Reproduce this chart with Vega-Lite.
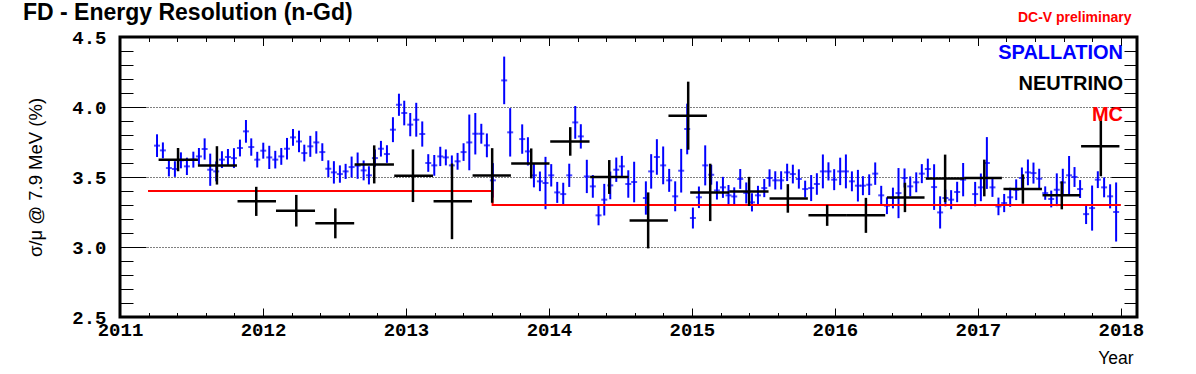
{
 "$schema": "https://vega.github.io/schema/vega-lite/v6.json",
 "width": 1017, "height": 280,
 "autosize": {"type": "none"},
 "padding": {"left": 120, "top": 37, "right": 59, "bottom": 57},
 "background": "white",
 "title": {"text": "FD - Energy Resolution (n-Gd)", "anchor": "start", "frame": "group", "dx": -97, "dy": 33, "font": "Liberation Sans", "fontSize": 23, "fontWeight": "bold", "color": "black", "offset": 0, "baseline": "alphabetic"},
 "config": {
  "view": {"stroke": "black", "strokeWidth": 3},
  "axis": {"domain": false, "labelFont": "Liberation Mono", "labelFontWeight": "bold", "labelFontSize": 19, "labelColor": "black", "tickColor": "black", "tickWidth": 1, "titleColor": "black"}
 },
 "datasets": {
  "spall": [
   {"t":2011.259,"v":3.724,"e":0.081},{"t":2011.300,"v":3.690,"e":0.057},{"t":2011.342,"v":3.564,"e":0.060},{"t":2011.384,"v":3.557,"e":0.056},
   {"t":2011.426,"v":3.619,"e":0.057},{"t":2011.468,"v":3.576,"e":0.062},{"t":2011.513,"v":3.624,"e":0.057},{"t":2011.552,"v":3.647,"e":0.060},
   {"t":2011.592,"v":3.700,"e":0.076},{"t":2011.631,"v":3.552,"e":0.115},{"t":2011.673,"v":3.540,"e":0.071},{"t":2011.713,"v":3.624,"e":0.060},
   {"t":2011.755,"v":3.643,"e":0.057},{"t":2011.797,"v":3.635,"e":0.071},{"t":2011.839,"v":3.707,"e":0.060},{"t":2011.881,"v":3.826,"e":0.081},
   {"t":2011.918,"v":3.714,"e":0.062},{"t":2011.960,"v":3.624,"e":0.056},{"t":2012.002,"v":3.688,"e":0.057},{"t":2012.044,"v":3.640,"e":0.083},
   {"t":2012.086,"v":3.624,"e":0.063},{"t":2012.128,"v":3.647,"e":0.060},{"t":2012.168,"v":3.702,"e":0.077},{"t":2012.210,"v":3.783,"e":0.060},
   {"t":2012.252,"v":3.754,"e":0.077},{"t":2012.289,"v":3.671,"e":0.060},{"t":2012.331,"v":3.719,"e":0.075},{"t":2012.373,"v":3.747,"e":0.080},
   {"t":2012.415,"v":3.678,"e":0.063},{"t":2012.457,"v":3.559,"e":0.060},{"t":2012.496,"v":3.533,"e":0.080},{"t":2012.538,"v":3.521,"e":0.062},
   {"t":2012.578,"v":3.540,"e":0.054},{"t":2012.620,"v":3.571,"e":0.075},{"t":2012.662,"v":3.581,"e":0.094},{"t":2012.704,"v":3.547,"e":0.071},
   {"t":2012.741,"v":3.512,"e":0.065},{"t":2012.783,"v":3.635,"e":0.062},{"t":2012.825,"v":3.702,"e":0.056},{"t":2012.867,"v":3.664,"e":0.063},
   {"t":2012.909,"v":3.838,"e":0.089},{"t":2012.951,"v":4.016,"e":0.079},{"t":2012.988,"v":3.957,"e":0.088},{"t":2013.030,"v":3.874,"e":0.083},
   {"t":2013.072,"v":3.909,"e":0.121},{"t":2013.114,"v":3.807,"e":0.090},{"t":2013.156,"v":3.600,"e":0.063},{"t":2013.198,"v":3.583,"e":0.074},
   {"t":2013.240,"v":3.647,"e":0.069},{"t":2013.279,"v":3.640,"e":0.057},{"t":2013.321,"v":3.583,"e":0.071},{"t":2013.361,"v":3.612,"e":0.060},
   {"t":2013.403,"v":3.678,"e":0.063},{"t":2013.443,"v":3.747,"e":0.199},{"t":2013.485,"v":3.809,"e":0.148},{"t":2013.527,"v":3.809,"e":0.071},
   {"t":2013.566,"v":3.726,"e":0.085},{"t":2013.608,"v":3.476,"e":0.123},{"t":2013.687,"v":4.190,"e":0.170},{"t":2013.729,"v":3.819,"e":0.173},
   {"t":2013.813,"v":3.771,"e":0.105},{"t":2013.853,"v":3.683,"e":0.101},{"t":2013.895,"v":3.512,"e":0.086},{"t":2013.937,"v":3.469,"e":0.070},
   {"t":2013.976,"v":3.457,"e":0.187},{"t":2014.016,"v":3.512,"e":0.080},{"t":2014.058,"v":3.390,"e":0.075},{"t":2014.100,"v":3.378,"e":0.081},
   {"t":2014.142,"v":3.512,"e":0.083},{"t":2014.184,"v":3.890,"e":0.117},{"t":2014.223,"v":3.790,"e":0.087},{"t":2014.265,"v":3.504,"e":0.119},
   {"t":2014.307,"v":3.433,"e":0.081},{"t":2014.347,"v":3.226,"e":0.071},{"t":2014.387,"v":3.338,"e":0.113},{"t":2014.429,"v":3.440,"e":0.099},
   {"t":2014.471,"v":3.552,"e":0.087},{"t":2014.510,"v":3.576,"e":0.075},{"t":2014.555,"v":3.450,"e":0.098},{"t":2014.596,"v":3.464,"e":0.145},
   {"t":2014.678,"v":3.350,"e":0.119},{"t":2014.715,"v":3.540,"e":0.123},{"t":2014.755,"v":3.643,"e":0.127},{"t":2014.799,"v":3.583,"e":0.135},
   {"t":2014.841,"v":3.476,"e":0.082},{"t":2014.883,"v":3.362,"e":0.107},{"t":2014.925,"v":3.545,"e":0.156},{"t":2014.967,"v":3.843,"e":0.181},
   {"t":2015.007,"v":3.207,"e":0.075},{"t":2015.049,"v":3.355,"e":0.077},{"t":2015.093,"v":3.583,"e":0.143},{"t":2015.135,"v":3.516,"e":0.071},
   {"t":2015.175,"v":3.404,"e":0.065},{"t":2015.217,"v":3.426,"e":0.075},{"t":2015.256,"v":3.369,"e":0.074},{"t":2015.296,"v":3.361,"e":0.065},
   {"t":2015.338,"v":3.486,"e":0.071},{"t":2015.380,"v":3.386,"e":0.075},{"t":2015.420,"v":3.319,"e":0.065},{"t":2015.462,"v":3.369,"e":0.068},
   {"t":2015.506,"v":3.421,"e":0.065},{"t":2015.543,"v":3.493,"e":0.062},{"t":2015.583,"v":3.476,"e":0.065},{"t":2015.624,"v":3.476,"e":0.065},
   {"t":2015.666,"v":3.533,"e":0.062},{"t":2015.706,"v":3.521,"e":0.067},{"t":2015.748,"v":3.486,"e":0.069},{"t":2015.792,"v":3.414,"e":0.060},
   {"t":2015.834,"v":3.421,"e":0.093},{"t":2015.874,"v":3.450,"e":0.077},{"t":2015.916,"v":3.540,"e":0.121},{"t":2015.955,"v":3.540,"e":0.065},
   {"t":2015.995,"v":3.481,"e":0.075},{"t":2016.037,"v":3.540,"e":0.098},{"t":2016.077,"v":3.540,"e":0.121},{"t":2016.119,"v":3.469,"e":0.071},
   {"t":2016.161,"v":3.438,"e":0.113},{"t":2016.196,"v":3.438,"e":0.068},{"t":2016.240,"v":3.445,"e":0.074},{"t":2016.282,"v":3.524,"e":0.080},
   {"t":2016.324,"v":3.369,"e":0.068},{"t":2016.364,"v":3.295,"e":0.060},{"t":2016.406,"v":3.350,"e":0.074},{"t":2016.445,"v":3.385,"e":0.179},
   {"t":2016.487,"v":3.493,"e":0.068},{"t":2016.527,"v":3.433,"e":0.071},{"t":2016.569,"v":3.462,"e":0.071},{"t":2016.608,"v":3.524,"e":0.068},
   {"t":2016.650,"v":3.557,"e":0.074},{"t":2016.694,"v":3.428,"e":0.163},{"t":2016.736,"v":3.247,"e":0.115},{"t":2016.773,"v":3.350,"e":0.060},
   {"t":2016.813,"v":3.338,"e":0.068},{"t":2016.855,"v":3.393,"e":0.073},{"t":2016.897,"v":3.481,"e":0.119},{"t":2016.981,"v":3.378,"e":0.087},
   {"t":2017.021,"v":3.426,"e":0.099},{"t":2017.063,"v":3.600,"e":0.185},{"t":2017.102,"v":3.426,"e":0.068},{"t":2017.144,"v":3.290,"e":0.063},
   {"t":2017.184,"v":3.314,"e":0.065},{"t":2017.226,"v":3.355,"e":0.068},{"t":2017.268,"v":3.409,"e":0.074},{"t":2017.308,"v":3.493,"e":0.075},
   {"t":2017.350,"v":3.533,"e":0.092},{"t":2017.389,"v":3.528,"e":0.075},{"t":2017.429,"v":3.488,"e":0.071},{"t":2017.471,"v":3.385,"e":0.048},
   {"t":2017.513,"v":3.343,"e":0.060},{"t":2017.552,"v":3.409,"e":0.117},{"t":2017.594,"v":3.461,"e":0.098},{"t":2017.638,"v":3.512,"e":0.138},
   {"t":2017.676,"v":3.500,"e":0.071},{"t":2017.715,"v":3.414,"e":0.064},{"t":2017.757,"v":3.235,"e":0.071},{"t":2017.799,"v":3.278,"e":0.161},
   {"t":2017.839,"v":3.481,"e":0.060},{"t":2017.883,"v":3.426,"e":0.071},{"t":2017.925,"v":3.362,"e":0.086},{"t":2017.967,"v":3.250,"e":0.211}
  ],
  "neutrino": [
   {"t":2011.406,"lo":2011.270,"hi":2011.545,"v":3.624,"e":0.083},
   {"t":2011.678,"lo":2011.545,"hi":2011.818,"v":3.583,"e":0.137},
   {"t":2011.953,"lo":2011.822,"hi":2012.091,"v":3.326,"e":0.104},
   {"t":2012.233,"lo":2012.091,"hi":2012.364,"v":3.259,"e":0.113},
   {"t":2012.506,"lo":2012.366,"hi":2012.638,"v":3.169,"e":0.107},
   {"t":2012.778,"lo":2012.641,"hi":2012.916,"v":3.590,"e":0.136},
   {"t":2013.049,"lo":2012.918,"hi":2013.189,"v":3.509,"e":0.188},
   {"t":2013.322,"lo":2013.193,"hi":2013.462,"v":3.326,"e":0.270},
   {"t":2013.603,"lo":2013.466,"hi":2013.734,"v":3.511,"e":0.195},
   {"t":2013.876,"lo":2013.736,"hi":2014.004,"v":3.597,"e":0.107},
   {"t":2014.149,"lo":2014.009,"hi":2014.284,"v":3.754,"e":0.102},
   {"t":2014.422,"lo":2014.288,"hi":2014.557,"v":3.500,"e":0.121},
   {"t":2014.694,"lo":2014.564,"hi":2014.832,"v":3.190,"e":0.200},
   {"t":2014.974,"lo":2014.836,"hi":2015.105,"v":3.938,"e":0.243},
   {"t":2015.128,"lo":2014.988,"hi":2015.261,"v":3.390,"e":0.205},
   {"t":2015.400,"lo":2015.261,"hi":2015.536,"v":3.397,"e":0.104},
   {"t":2015.671,"lo":2015.543,"hi":2015.811,"v":3.347,"e":0.102},
   {"t":2015.946,"lo":2015.815,"hi":2016.084,"v":3.226,"e":0.075},
   {"t":2016.217,"lo":2016.084,"hi":2016.352,"v":3.226,"e":0.125},
   {"t":2016.490,"lo":2016.364,"hi":2016.627,"v":3.354,"e":0.105},
   {"t":2016.771,"lo":2016.636,"hi":2016.904,"v":3.490,"e":0.170},
   {"t":2017.045,"lo":2016.904,"hi":2017.168,"v":3.493,"e":0.131},
   {"t":2017.315,"lo":2017.179,"hi":2017.448,"v":3.414,"e":0.105},
   {"t":2017.587,"lo":2017.452,"hi":2017.715,"v":3.369,"e":0.100},
   {"t":2017.860,"lo":2017.722,"hi":2017.990,"v":3.719,"e":0.214}
  ],
  "mc": [
   {"t":2011.196,"v":3.40},{"t":2013.606,"v":3.30},{"t":2018.0,"v":3.30}
  ]
 },
 "layer": [
  {
   "data": {"name": "spall"},
   "mark": {"type": "errorbar", "thickness": 2},
   "encoding": {
    "x": {"field": "t", "type": "quantitative", "scale": {"domain": [2011, 2018.113], "nice": false, "zero": false},
     "axis": {"orient": "bottom",
      "values": [2011,2011.2,2011.4,2011.6,2011.8,2012,2012.2,2012.4,2012.6,2012.8,2013,2013.2,2013.4,2013.6,2013.8,2014,2014.2,2014.4,2014.6,2014.8,2015,2015.2,2015.4,2015.6,2015.8,2016,2016.2,2016.4,2016.6,2016.8,2017,2017.2,2017.4,2017.6,2017.8,2018],
      "tickSize": {"condition": {"test": "abs(datum.value - round(datum.value)) < 0.01", "value": -9}, "value": -4.5},
      "labelExpr": "abs(datum.value - round(datum.value)) < 0.01 ? format(datum.value, 'd') : ''",
      "labelFlush": false, "labelOverlap": false, "labelPadding": 12, "grid": false,
      "title": "Year", "titleFont": "Liberation Sans", "titleFontSize": 17.5, "titleFontWeight": "normal",
      "titleAlign": "right", "titleX": 1013, "titleY": 46, "titleBaseline": "alphabetic"}},
    "y": {"field": "v", "type": "quantitative", "scale": {"domain": [2.5, 4.5], "nice": false, "zero": false},
     "axis": {"orient": "left",
      "values": [2.5,2.6,2.7,2.8,2.9,3.0,3.1,3.2,3.3,3.4,3.5,3.6,3.7,3.8,3.9,4.0,4.1,4.2,4.3,4.4,4.5],
      "tickSize": {"condition": {"test": "abs(datum.value*2 - round(datum.value*2)) < 0.01", "value": -26}, "value": -13},
      "labelExpr": "abs(datum.value*2 - round(datum.value*2)) < 0.01 ? format(datum.value, '.1f') : ''",
      "labelOverlap": false, "labelPadding": 40,
      "grid": true, "gridColor": "black", "gridDash": [1, 2], "gridWidth": 1,
      "gridOpacity": {"condition": {"test": "datum.value > 2.75 && datum.value < 4.25 && abs(datum.value*2 - round(datum.value*2)) < 0.01", "value": 1}, "value": 0},
      "title": "σ/μ @ 7.9 MeV (%)", "titleFont": "Liberation Sans", "titleFontSize": 18.5, "titleFontWeight": "normal",
      "titleX": -85, "titleY": 140, "titleAlign": "center", "titleBaseline": "middle", "titleAngle": -90}},
    "yError": {"field": "e"},
    "color": {"datum": "SPALLATION", "type": "nominal",
     "scale": {"domain": ["SPALLATION", "NEUTRINO", "MC"], "range": ["#0000ff", "#000000", "#ff0000"]},
     "legend": {"orient": "none", "legendX": 979, "legendY": 6, "symbolOpacity": 0, "symbolSize": 0, "symbolStrokeWidth": 0,
      "labelFont": "Liberation Sans", "labelFontSize": 20, "labelFontWeight": "bold", "labelAlign": "right", "rowPadding": 11, "title": null, "labelLimit": 300,
      "encode": {"labels": {"update": {"fill": {"scale": "color", "field": "value"}}}}}}
   }
  },
  {
   "data": {"name": "spall"},
   "mark": {"type": "tick", "orient": "horizontal", "size": 6, "thickness": 2},
   "encoding": {
    "x": {"field": "t", "type": "quantitative", "axis": null},
    "y": {"field": "v", "type": "quantitative", "axis": null},
    "color": {"datum": "SPALLATION", "type": "nominal"}
   }
  },
  {
   "data": {"name": "mc"},
   "mark": {"type": "line", "interpolate": "step-after", "strokeWidth": 2},
   "encoding": {
    "x": {"field": "t", "type": "quantitative", "axis": null},
    "y": {"field": "v", "type": "quantitative", "axis": null},
    "color": {"datum": "MC", "type": "nominal"}
   }
  },
  {
   "data": {"name": "neutrino"},
   "mark": {"type": "rule", "strokeWidth": 2.5},
   "encoding": {
    "x": {"field": "lo", "type": "quantitative",
     "axis": {"orient": "top",
      "values": [2011,2011.2,2011.4,2011.6,2011.8,2012,2012.2,2012.4,2012.6,2012.8,2013,2013.2,2013.4,2013.6,2013.8,2014,2014.2,2014.4,2014.6,2014.8,2015,2015.2,2015.4,2015.6,2015.8,2016,2016.2,2016.4,2016.6,2016.8,2017,2017.2,2017.4,2017.6,2017.8,2018],
      "tickSize": {"condition": {"test": "abs(datum.value - round(datum.value)) < 0.01", "value": -8.5}, "value": -4.5},
      "labels": false, "grid": false,
      "title": "DC-V preliminary", "titleColor": "#ff0000", "titleFont": "Liberation Sans", "titleFontSize": 14, "titleFontWeight": "bold",
      "titleX": 1011, "titleY": -16, "titleAlign": "right", "titleBaseline": "alphabetic"}},
    "x2": {"field": "hi"},
    "y": {"field": "v", "type": "quantitative",
     "axis": {"orient": "right",
      "values": [2.5,2.6,2.7,2.8,2.9,3.0,3.1,3.2,3.3,3.4,3.5,3.6,3.7,3.8,3.9,4.0,4.1,4.2,4.3,4.4,4.5],
      "tickSize": {"condition": {"test": "abs(datum.value*2 - round(datum.value*2)) < 0.01", "value": -26}, "value": -13},
      "labels": false, "grid": false, "title": null}},
    "color": {"datum": "NEUTRINO", "type": "nominal"}
   }
  },
  {
   "data": {"name": "neutrino"},
   "mark": {"type": "errorbar", "thickness": 2.5},
   "encoding": {
    "x": {"field": "t", "type": "quantitative", "axis": null},
    "y": {"field": "v", "type": "quantitative", "axis": null},
    "yError": {"field": "e"},
    "color": {"datum": "NEUTRINO", "type": "nominal"}
   }
  }
 ],
 "resolve": {"axis": {"x": "independent", "y": "independent"}}
}
